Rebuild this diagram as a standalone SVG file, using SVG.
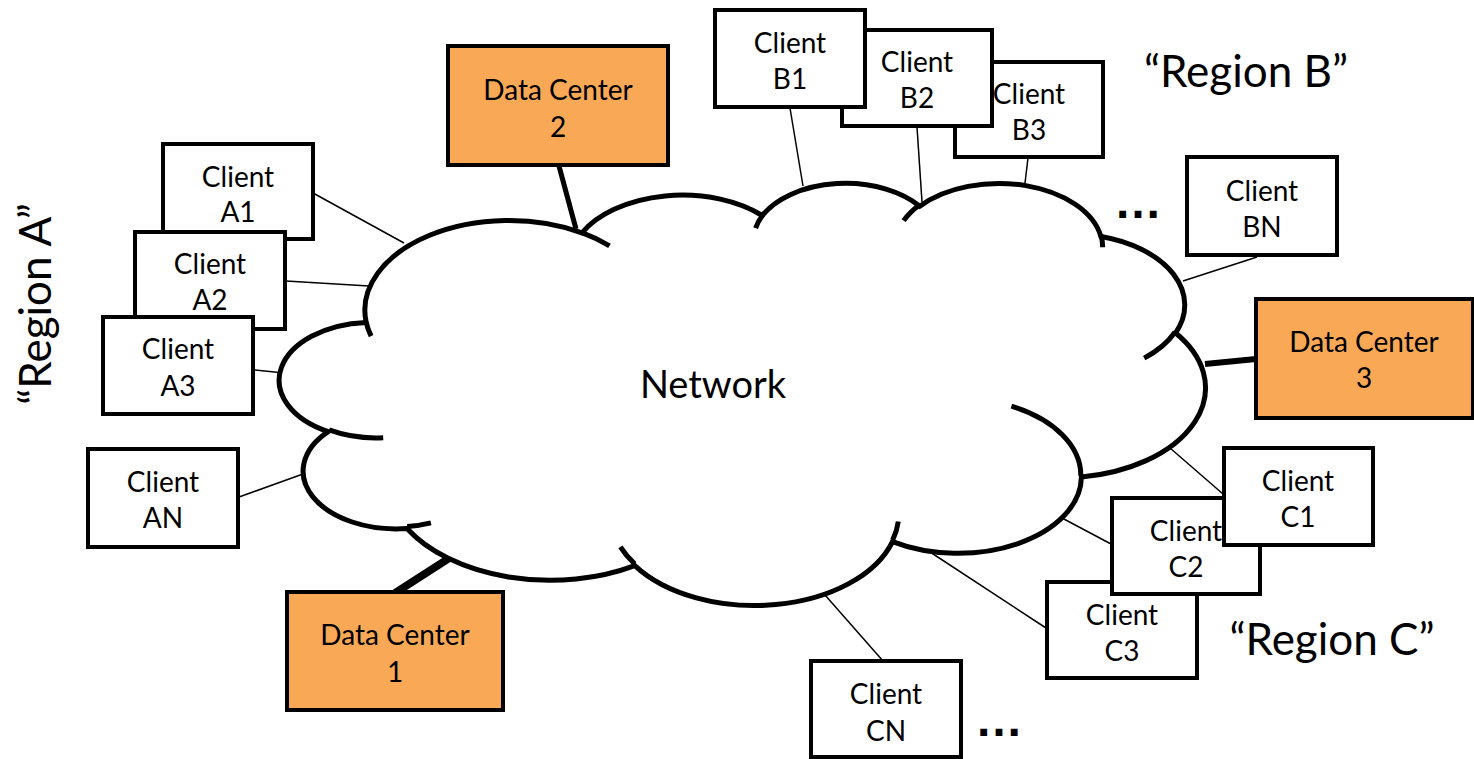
<svg xmlns="http://www.w3.org/2000/svg" width="1474" height="759" viewBox="0 0 1474 759">
<style>
.box{fill:#fff;stroke:#000;stroke-width:4;stroke-linejoin:miter}
.dc{fill:#F9A856;stroke:#000;stroke-width:4;stroke-linejoin:miter}
.t{font-family:Lato,"Open Sans",sans-serif;font-size:28px;text-anchor:middle;fill:#000}
.big{font-family:Lato,"Open Sans",sans-serif;font-size:44px;text-anchor:middle;fill:#000}
.dots{font-family:"Liberation Sans",Arial,sans-serif;font-weight:bold;font-size:48px;text-anchor:middle;fill:#000}
.link{stroke:#000;stroke-width:1.5;fill:none}
.trunk{stroke:#000;fill:none;stroke-linecap:butt}
.cloud{fill:#fff;stroke:#000;stroke-width:5}
.inner{fill:none;stroke:#000;stroke-width:5}
</style>
<g id="connectors">
<line class="link" x1="313" y1="193" x2="404" y2="243"/>
<line class="link" x1="286" y1="281" x2="369" y2="286"/>
<line class="link" x1="255" y1="370" x2="284" y2="373"/>
<line class="link" x1="239" y1="497" x2="303" y2="474"/>
<line class="link" x1="790" y1="108" x2="803" y2="186"/>
<line class="link" x1="917" y1="127" x2="922" y2="202"/>
<line class="link" x1="1028" y1="158" x2="1025" y2="183"/>
<line class="link" x1="1257" y1="257" x2="1183" y2="281"/>
<line class="link" x1="1223" y1="494" x2="1170" y2="448"/>
<line class="link" x1="1111" y1="544" x2="1062" y2="518"/>
<line class="link" x1="1046" y1="628" x2="927" y2="550"/>
<line class="link" x1="883" y1="661" x2="825" y2="595"/>
<line class="trunk" stroke-width="5" x1="559" y1="166" x2="576" y2="229"/>
<line class="trunk" stroke-width="8" x1="395" y1="593" x2="451" y2="557"/>
<line class="trunk" stroke-width="6" x1="1205" y1="364" x2="1256" y2="359"/>
</g>
<g id="network">
<path class="cloud" d="M366.2,322.4 A144.13,89.77 0 0 1 581.9,232.8 A113.82,70.99 0 0 1 762.3,215.5 A93.16,58.07 0 0 1 919.8,206.2 A103.66,64.42 0 0 1 1100.9,236.5 A113.82,71.05 0 0 1 1175.6,333.0 A144.60,90.07 0 0 1 1081.4,477.0 A123.47,76.85 0 0 1 892.5,541.6 A144.11,90.02 0 0 1 634.8,565.6 A164.77,102.99 0 0 1 407.0,528.5 A93.06,57.81 0 0 1 328.2,431.6 A92.74,58.07 0 0 1 366.2,322.4 Z"/>
<path class="inner" d="M383.2,437.7 A92.74,58.07 0 0 1 329.1,429.9 M430.9,522.9 A93.06,57.81 0 0 1 407.2,526.6 M634.7,563.9 A144.11,90.02 0 0 1 620.4,546.8 M898.3,521.5 A144.11,90.02 0 0 1 892.6,540.1 M1011.4,406.2 A123.47,76.85 0 0 1 1080.8,475.9 M1175.1,332.0 A113.82,71.05 0 0 1 1144.2,358.1 M1101.0,235.0 A103.66,64.42 0 0 1 1102.6,247.3 M903.6,220.6 A103.66,64.42 0 0 1 919.4,204.9 M755.6,228.1 A93.16,58.07 0 0 1 763.2,214.5 M581.8,232.7 A144.13,89.77 0 0 1 609.5,245.9 M371.1,336.2 A144.13,89.77 0 0 1 366.2,322.4"/>
<text class="big" x="713" y="398" style="font-size:38px">Network</text>
</g>
<g id="clientA1"><rect class="box" x="163" y="144" width="150" height="95"/><text class="t" x="238" y="187">Client</text><text class="t" x="238" y="222">A1</text></g>
<g id="clientA2"><rect class="box" x="135" y="232" width="150" height="97"/><text class="t" x="210" y="274">Client</text><text class="t" x="210" y="310">A2</text></g>
<g id="clientA3"><rect class="box" x="103" y="317" width="150" height="97"/><text class="t" x="178" y="359">Client</text><text class="t" x="178" y="396">A3</text></g>
<g id="clientAN"><rect class="box" x="88" y="449" width="150" height="98"/><text class="t" x="163" y="492">Client</text><text class="t" x="163" y="528">AN</text></g>
<g id="clientB3"><rect class="box" x="955" y="62" width="148" height="95"/><text class="t" x="1029" y="104">Client</text><text class="t" x="1029" y="140">B3</text></g>
<g id="clientB2"><rect class="box" x="842" y="30" width="150" height="96"/><text class="t" x="917" y="72">Client</text><text class="t" x="917" y="108">B2</text></g>
<g id="clientB1"><rect class="box" x="715" y="10" width="150" height="97"/><text class="t" x="790" y="53">Client</text><text class="t" x="790" y="89">B1</text></g>
<g id="clientBN"><rect class="box" x="1187" y="157" width="150" height="98"/><text class="t" x="1262" y="201">Client</text><text class="t" x="1262" y="237">BN</text></g>
<g id="clientC3"><rect class="box" x="1047" y="582" width="150" height="96"/><text class="t" x="1122" y="625">Client</text><text class="t" x="1122" y="661">C3</text></g>
<g id="clientC2"><rect class="box" x="1112" y="498" width="148" height="96"/><text class="t" x="1186" y="541">Client</text><text class="t" x="1186" y="577">C2</text></g>
<g id="clientC1"><rect class="box" x="1224" y="448" width="149" height="97"/><text class="t" x="1298" y="491">Client</text><text class="t" x="1298" y="527">C1</text></g>
<g id="clientCN"><rect class="box" x="811" y="661" width="150" height="96"/><text class="t" x="886" y="704">Client</text><text class="t" x="886" y="741">CN</text></g>
<g id="dc2"><rect class="dc" x="448" y="46" width="220" height="119"/><text class="t" x="558" y="100">Data Center</text><text class="t" x="558" y="137">2</text></g>
<g id="dc1"><rect class="dc" x="287" y="592" width="216" height="118"/><text class="t" x="395" y="645">Data Center</text><text class="t" x="395" y="682">1</text></g>
<g id="dc3"><rect class="dc" x="1256" y="299" width="217" height="119"/><text class="t" x="1364" y="352">Data Center</text><text class="t" x="1364" y="388">3</text></g>
<g id="labels">
<text class="big" x="1246" y="87">“Region B”</text>
<text class="big" x="1332" y="655">“Region C”</text>
<text class="big" transform="translate(51,304) rotate(-90)">“Region A”</text>
<text class="dots" x="1138" y="218">…</text>
<text class="dots" x="999" y="736">…</text>
</g>
</svg>
